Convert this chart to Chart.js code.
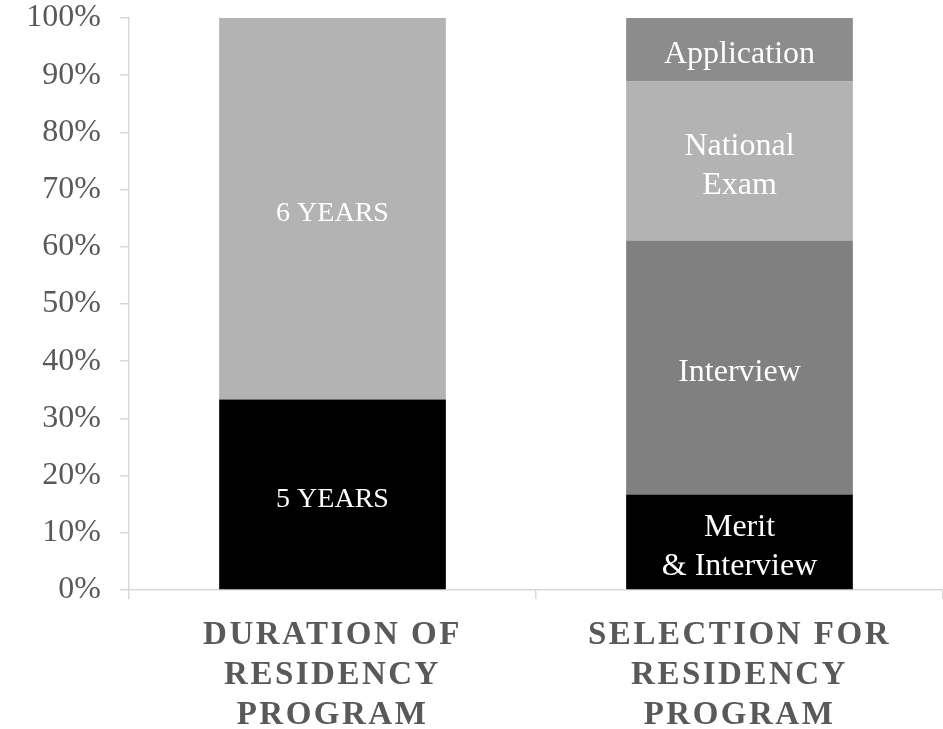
<!DOCTYPE html>
<html>
<head>
<meta charset="utf-8">
<script src="https://cdn.jsdelivr.net/npm/chart.js@4"></script>
<style>
  body { margin: 0; background: #fff; }
  #wrap { width: 943px; height: 729px; }
</style>
</head>
<body>
<div id="wrap"><canvas id="chart" width="943" height="729"></canvas></div>
<script>
// categories (x axis)
const categories = [
  ["DURATION OF", "RESIDENCY", "PROGRAM"],
  ["SELECTION FOR", "RESIDENCY", "PROGRAM"]
];

// left bar: duration of residency program (%)
const durationLabels = ["5 YEARS", "6 YEARS"];
const durationValues = [33.3, 66.7];
const durationColors = ["#000000", "#b3b3b3"];

// right bar: selection for residency program (%)
const selectionLabels = [["Merit", "& Interview"], "Interview", ["National", "Exam"], "Application"];
const selectionValues = [16.7, 44.4, 27.8, 11.1];
const selectionColors = ["#000000", "#808080", "#b3b3b3", "#8c8c8c"];

const yTicks = [0, 10, 20, 30, 40, 50, 60, 70, 80, 90, 100];

// one stacked dataset per segment level
const datasets = [];
for (let i = 0; i < selectionValues.length; i++) {
  datasets.push({
    data: [durationValues[i] ?? null, selectionValues[i]],
    backgroundColor: [durationColors[i] || "#fff", selectionColors[i]],
    segLabels: [durationLabels[i] || "", selectionLabels[i]],
    barPercentage: 0.557,
    categoryPercentage: 1
  });
}

// draws segment labels in the middle of each bar piece
const segmentLabels = {
  id: "segmentLabels",
  beforeDraw(chart) {
    chart.ctx.letterSpacing = "0px";
  },
  afterDatasetsDraw(chart) {
    const ctx = chart.ctx;
    ctx.save();
    ctx.letterSpacing = "0px";
    ctx.fillStyle = "#ffffff";
    ctx.textAlign = "center";
    ctx.textBaseline = "middle";
    chart.data.datasets.forEach((ds, di) => {
      const meta = chart.getDatasetMeta(di);
      meta.data.forEach((el, idx) => {
        const v = ds.data[idx];
        if (!v) return;
        const { x, y, base } = el.getProps(["x", "y", "base"], true);
        let lines = ds.segLabels[idx];
        if (!Array.isArray(lines)) lines = [lines];
        const size = idx === 0 ? 28 : 32;
        const lh = 39;
        ctx.font = size + "px 'Liberation Serif', 'Times New Roman', serif";
        const cy = (y + base) / 2 + 5;
        lines.forEach((t, k) => {
          ctx.fillText(t, x, cy + (k - (lines.length - 1) / 2) * lh);
        });
      });
    });
    ctx.restore();
    // the x axis labels are drawn after this (ticks.z = 1), with spacing
    ctx.letterSpacing = "2.5px";
  },
  afterDraw(chart) {
    chart.ctx.letterSpacing = "0px";
  }
};

new Chart(document.getElementById("chart"), {
  type: "bar",
  data: {
    labels: categories,
    datasets: datasets
  },
  plugins: [segmentLabels],
  options: {
    responsive: false,
    animation: false,
    layout: { padding: 0 },
    plugins: {
      legend: { display: false },
      tooltip: { enabled: false }
    },
    scales: {
      x: {
        stacked: true,
        grid: {
          offset: true,
          drawOnChartArea: false,
          tickLength: 9,
          color: "#d9d9d9",
          lineWidth: 1.5
        },
        border: { color: "#d9d9d9", width: 1.5 },
        ticks: {
          z: 1,
          autoSkip: false,
          maxRotation: 0,
          padding: 17,
          color: "#595959",
          font: { family: "'Liberation Serif', 'Times New Roman', serif", size: 33, weight: "bold", lineHeight: 1.2 }
        },
        afterFit(scale) {
          scale.height = 139;
          scale.paddingLeft = 0;
          scale.paddingRight = 0;
        }
      },
      y: {
        stacked: true,
        min: 0,
        max: 100,
        afterBuildTicks(scale) { scale.ticks = yTicks.map(v => ({ value: v })); },
        grid: {
          drawOnChartArea: false,
          tickLength: 9,
          color: "#d9d9d9",
          lineWidth: 1.5
        },
        border: { color: "#d9d9d9", width: 1.5 },
        ticks: {
          padding: 19,
          color: "#595959",
          font: { family: "'Liberation Serif', 'Times New Roman', serif", size: 32 },
          callback: v => v + "%"
        },
        afterFit(scale) {
          scale.width = 129;
          scale.paddingTop = 18;
          scale.paddingBottom = 0;
        }
      }
    }
  }
});
</script>
</body>
</html>
